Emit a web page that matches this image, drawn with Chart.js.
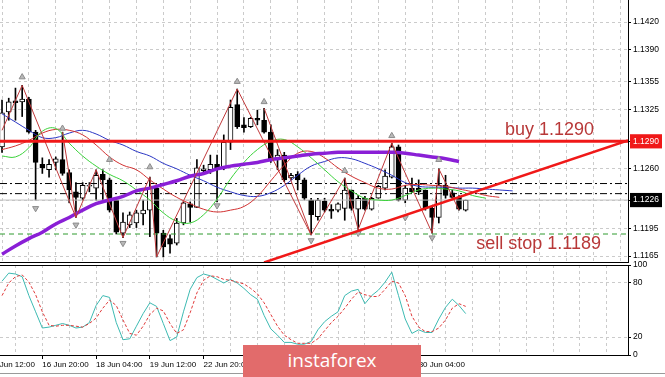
<!DOCTYPE html>
<html>
<head>
<meta charset="utf-8">
<script src="https://cdn.jsdelivr.net/npm/chart.js@4.4.1/dist/chart.umd.min.js"></script>
<style>
  html, body { margin: 0; padding: 0; background: #fff; }
  #wrap { position: relative; width: 665px; height: 377px; overflow: hidden; }
  #main { position: absolute; left: 0; top: 0; }
  #stoch { position: absolute; left: 0; top: 255px; }
  #foot { position: absolute; left: 0; top: 373px; width: 665px; height: 0; border-top: 1px solid #9a9a9a; }
  #mark { position: absolute; left: 243px; top: 345px; width: 178px; height: 32px;
          background: #e26b6b; color: #fff; font: 19px "Open Sans", sans-serif;
          text-align: center; line-height: 31px; }
</style>
</head>
<body>
<div id="wrap">
  <canvas id="main" width="665" height="263"></canvas>
  <canvas id="stoch" width="665" height="122"></canvas>
  <div id="foot"></div>
  <div id="mark">instaforex</div>
</div>
<script>
// H4 candles, one entry per bar (bar 0 = left edge)
var opens  = [1.1284,1.1322,1.1334,1.1333,1.1336,1.1300,1.1265,1.1259,1.1267,1.1270,
              1.1256,1.1235,1.1228,1.1241,1.1239,1.1254,1.1248,1.1226,1.1190,1.1199,
              1.1201,1.1211,1.1215,1.1239,1.1190,1.1184,1.1179,1.1201,1.1222,1.1218,
              1.1258,1.1259,1.1265,1.1261,1.1289,1.1330,1.1308,1.1306,1.1315,1.1313,
              1.1300,1.1271,1.1275,1.1250,1.1254,1.1248,1.1226,1.1208,1.1225,1.1216,
              1.1215,1.1217,1.1237,1.1216,1.1228,1.1216,1.1228,1.1239,1.1251,1.1284,
              1.1226,1.1239,1.1239,1.1237,1.1217,1.1207,1.1242,1.1234,1.1229,1.1215];
var highs  = [1.1335,1.1337,1.1348,1.1351,1.1338,1.1302,1.1272,1.1270,1.1273,1.1300,
              1.1259,1.1245,1.1245,1.1245,1.1259,1.1259,1.1250,1.1228,1.1212,1.1213,
              1.1215,1.1226,1.1251,1.1240,1.1193,1.1188,1.1206,1.1224,1.1224,1.1270,
              1.1264,1.1275,1.1275,1.1297,1.1335,1.1347,1.1316,1.1316,1.1324,1.1326,
              1.1308,1.1281,1.1278,1.1255,1.1257,1.1250,1.1228,1.1228,1.1228,1.1221,
              1.1223,1.1250,1.1237,1.1231,1.1230,1.1229,1.1242,1.1259,1.1288,1.1286,
              1.1242,1.1250,1.1248,1.1237,1.1218,1.1260,1.1253,1.1237,1.1231,1.1226];
var lows   = [1.1278,1.1313,1.1313,1.1317,1.1299,1.1226,1.1255,1.1251,1.1259,1.1253,
              1.1223,1.1207,1.1226,1.1235,1.1226,1.1226,1.1213,1.1189,1.1185,1.1196,
              1.1196,1.1199,1.1186,1.1164,1.1164,1.1168,1.1177,1.1199,1.1202,1.1218,
              1.1256,1.1255,1.1224,1.1259,1.1281,1.1304,1.1300,1.1305,1.1308,1.1299,
              1.1267,1.1259,1.1246,1.1248,1.1237,1.1226,1.1188,1.1204,1.1213,1.1206,
              1.1213,1.1204,1.1215,1.1194,1.1215,1.1215,1.1228,1.1237,1.1250,1.1225,
              1.1223,1.1234,1.1232,1.1215,1.1190,1.1201,1.1228,1.1228,1.1215,1.1214];
var closes = [1.1321,1.1333,1.1332,1.1336,1.1300,1.1267,1.1261,1.1265,1.1271,1.1255,
              1.1237,1.1229,1.1242,1.1242,1.1253,1.1248,1.1215,1.1191,1.1202,1.1210,
              1.1212,1.1215,1.1239,1.1190,1.1175,1.1178,1.1201,1.1223,1.1218,1.1261,
              1.1260,1.1265,1.1260,1.1289,1.1327,1.1306,1.1305,1.1315,1.1313,1.1300,
              1.1270,1.1275,1.1248,1.1253,1.1248,1.1228,1.1210,1.1226,1.1215,1.1214,
              1.1222,1.1237,1.1217,1.1228,1.1216,1.1228,1.1241,1.1252,1.1284,1.1226,
              1.1239,1.1235,1.1235,1.1217,1.1207,1.1242,1.1231,1.1229,1.1216,1.1226];

// moving averages, read every second bar (bar 0, 2, 4 ...)
var maSlow = [1.1167,1.1176,1.1184,1.1191,1.1200,1.1207,1.1215,1.1222,1.1226,1.1230,
              1.1236,1.1239,1.1243,1.1247,1.1252,1.1255,1.1260,1.1263,1.1265,1.1267,
              1.1270,1.1272,1.1274,1.1276,1.1277,1.1278,1.1278,1.1278,1.1278,1.1278,
              1.1277,1.1275,1.1273,1.1271,1.1268];
var jaw   = [1.1320,1.1311,1.1302,1.1294,1.1294,1.1299,1.1302,1.1298,1.1291,1.1286,
             1.1279,1.1274,1.1266,1.1260,1.1253,1.1247,1.1240,1.1235,1.1231,1.1230,
             1.1234,1.1242,1.1253,1.1263,1.1268,1.1272,1.1271,1.1266,1.1260,1.1253,
             1.1245,1.1241,1.1240,1.1240,1.1239,1.1239,1.1238,1.1237,1.1236];
var teeth = [1.1281,1.1285,1.1291,1.1299,1.1303,1.1302,1.1297,1.1286,1.1273,1.1264,
             1.1259,1.1248,1.1238,1.1229,1.1222,1.1216,1.1213,1.1215,1.1219,1.1230,
             1.1247,1.1264,1.1277,1.1279,1.1272,1.1261,1.1252,1.1245,1.1239,1.1238,
             1.1242,1.1243,1.1242,1.1241,1.1238,1.1235,1.1231,1.1229];
var lips  = [1.1274,1.1273,1.1283,1.1301,1.1304,1.1288,1.1274,1.1263,1.1254,1.1247,
             1.1237,1.1226,1.1212,1.1203,1.1201,1.1210,1.1227,1.1249,1.1267,1.1281,
             1.1290,1.1292,1.1284,1.1272,1.1259,1.1246,1.1236,1.1228,1.1226,1.1226,
             1.1231,1.1237,1.1239,1.1238,1.1236,1.1231,1.1228];

// zigzag turning points
var zzBars   = [0, 3, 11, 14, 18, 22, 23, 35, 46, 51, 53, 58, 64, 65, 68];
var zzPrices = [1.1302,1.1351,1.1207,1.1259,1.1185,1.1251,1.1164,1.1347,1.1188,1.1250,1.1194,1.1288,1.1190,1.1260,1.1215];
var zzExtraBars   = [[9, 11], [39, 46]];
var zzExtraPrices = [[1.1300, 1.1207], [1.1326, 1.1188]];

// fractal arrows
var fracUpBars   = [3, 9, 16, 22, 35, 39, 51, 58, 65];
var fracUpPrices = [1.1360,1.1304,1.1270,1.1262,1.1355,1.1333,1.1258,1.1296,1.1270];
var fracDnBars   = [5, 11, 18, 32, 46, 53, 60, 64];
var fracDnPrices = [1.1217,1.1199,1.1179,1.1220,1.1182,1.1190,1.1207,1.1185];

// levels
var buyLevel = 1.1290;
var sellStop = 1.1189;
var bidPrice = 1.1226;
var pendingLevels = [1.1244, 1.1233];
var trendBars = [39, 93.15];
var trendPrices = [1.1158, 1.1291];
var levelLabels = ['buy 1.1290', 'sell stop 1.1189'];

var priceTicks = [1.1420, 1.1390, 1.1355, 1.1325, 1.1290, 1.1260, 1.1226, 1.1195, 1.1165];
var timeLabels = ['15 Jun 12:00','16 Jun 20:00','18 Jun 04:00','19 Jun 12:00','22 Jun 20:00',
                  '24 Jun 04:00','25 Jun 12:00','26 Jun 20:00','30 Jun 04:00'];
var timeTickBars = [-2, 6, 14, 22, 30, 38, 46, 54, 62];

// stochastic
var stochMain = [82,91,90,87,66,48,30,31,33,35,33,30,31,36,55,66,64,36,17,18,
                 32,46,58,54,35,16,20,48,73,86,90,88,84,80,84,80,74,67,62,44,
                 29,22,14,14,12,12,15,28,37,43,48,66,71,73,57,66,72,81,92,66,
                 40,24,28,25,25,40,53,62,55,46];
var stochSignal = [66,80,87,89,81,67,48,33,32,33,33,32,31,35,41,52,61,55,39,24,
                   22,32,45,52,49,35,24,28,47,69,83,88,87,84,83,81,79,74,68,58,
                   45,32,22,17,13,13,13,18,27,36,43,52,62,70,67,65,65,73,82,80,
                   66,43,31,26,26,30,39,52,57,54];
var stochTicks = [0, 20, 80, 100];

var X_MIN = -0.3, X_MAX = 93.15;
var gridBars = [];
for (var b = -2; b <= 92; b += 4) gridBars.push(b);

Chart.defaults.font.family = '"Liberation Sans", Arial, sans-serif';
Chart.defaults.font.size = 8.5;
Chart.defaults.color = '#000';

function halfSteps(arr) {
    return arr.map(function (v, k) { return { x: k * 2, y: v }; });
}
function flatLine(v) {
    return [{ x: X_MIN, y: v }, { x: X_MAX, y: v }];
}
function lineSet(data, color, width, order, extra) {
    var ds = { type: 'line', data: data, borderColor: color, borderWidth: width,
               pointRadius: 0, fill: false, order: order };
    for (var k in extra) ds[k] = extra[k];
    return ds;
}

var bodyColors = opens.map(function (o, i) { return closes[i] >= o ? '#ffffff' : '#000000'; });

var datasets = [
    { type: 'bar', data: opens.map(function (o, i) { return { x: i, y: [lows[i], highs[i]] }; }),
      backgroundColor: '#000', borderWidth: 0, grouped: false,
      barThickness: 1, maxBarThickness: 1, order: 20 },
    { type: 'bar', data: opens.map(function (o, i) { return { x: i, y: [o, closes[i]] }; }),
      backgroundColor: bodyColors, borderColor: '#000', borderWidth: 1, borderSkipped: false,
      grouped: false, barThickness: 5, maxBarThickness: 5, order: 19 },
    lineSet(flatLine(bidPrice), '#c0c0c0', 1, 18),
    lineSet(flatLine(sellStop), '#2e9a2e', 1, 17, { borderDash: [5, 4] }),
    lineSet(flatLine(pendingLevels[0]), '#000', 1, 16, { borderDash: [7, 3, 2, 3] }),
    lineSet(flatLine(pendingLevels[1]), '#000', 1, 16, { borderDash: [7, 3, 2, 3] }),
    lineSet(halfSteps(jaw), '#2a36c4', 1, 12, { tension: 0.4 }),
    lineSet(halfSteps(teeth), '#d23232', 1, 11, { tension: 0.4 }),
    lineSet(halfSteps(lips), '#3ad23a', 1, 10, { tension: 0.4 }),
    lineSet(halfSteps(maSlow), '#8a1fd6', 3.5, 9, { tension: 0.4 }),
    lineSet(zzBars.map(function (b, k) { return { x: b, y: zzPrices[k] }; }), '#c0393b', 1, 8),
    lineSet(flatLine(buyLevel), '#f01818', 3, 3),
    lineSet(trendBars.map(function (b, k) { return { x: b, y: trendPrices[k] }; }), '#f01818', 2.5, 2),
    { type: 'line', data: fracUpBars.map(function (b, k) { return { x: b, y: fracUpPrices[k] }; }),
      showLine: false, pointStyle: 'triangle', pointRadius: 3.5, pointRotation: 0,
      pointBackgroundColor: '#b8b8b8', pointBorderColor: '#8c8c8c', pointBorderWidth: 1, order: 4 },
    { type: 'line', data: fracDnBars.map(function (b, k) { return { x: b, y: fracDnPrices[k] }; }),
      showLine: false, pointStyle: 'triangle', pointRadius: 3.5, pointRotation: 180,
      pointBackgroundColor: '#b8b8b8', pointBorderColor: '#8c8c8c', pointBorderWidth: 1, order: 4 }
];
zzExtraBars.forEach(function (bars, k) {
    datasets.push(lineSet(bars.map(function (b, j) { return { x: b, y: zzExtraPrices[k][j] }; }), '#c0393b', 1, 8));
});

var levelText = {
    id: 'levelText',
    afterDatasetsDraw: function (chart) {
        var ctx = chart.ctx, a = chart.chartArea, y = chart.scales.y;
        ctx.save();
        ctx.font = '18px "Liberation Sans", Arial, sans-serif';
        ctx.fillStyle = '#b83838';
        ctx.textAlign = 'right';
        ctx.fillText(levelLabels[0], a.right - 34, y.getPixelForValue(buyLevel) - 6);
        ctx.fillText(levelLabels[1], a.right - 27, y.getPixelForValue(sellStop) + 15);
        ctx.restore();
    }
};

var boxed = [buyLevel, bidPrice];

new Chart(document.getElementById('main').getContext('2d'), {
    type: 'line',
    data: { datasets: datasets },
    options: {
        responsive: false,
        animation: false,
        layout: { autoPadding: false, padding: 0 },
        plugins: { legend: { display: false }, tooltip: { enabled: false } },
        scales: {
            x: {
                type: 'linear', min: X_MIN, max: X_MAX, offset: false,
                afterBuildTicks: function (s) { s.ticks = gridBars.map(function (v) { return { value: v }; }); },
                afterFit: function (s) { s.height = 1; s.paddingLeft = 0; s.paddingRight = 0; },
                ticks: { display: false },
                grid: { color: '#cbcbcb', drawTicks: false },
                border: { color: '#000', dash: [3, 3] }
            },
            y: {
                position: 'right', min: 1.11585, max: 1.1444,
                afterBuildTicks: function (s) { s.ticks = priceTicks.map(function (v) { return { value: v }; }); },
                afterFit: function (s) { s.width = 37; s.paddingTop = 0; s.paddingBottom = 0; },
                ticks: {
                    padding: 2,
                    callback: function (v) { return v.toFixed(4); },
                    color: function (c) { return c.tick && boxed.indexOf(c.tick.value) >= 0 ? '#fff' : '#000'; },
                    showLabelBackdrop: function (c) { return !!(c.tick && boxed.indexOf(c.tick.value) >= 0); },
                    backdropColor: function (c) { return c.tick && c.tick.value === buyLevel ? '#f01818' : '#000'; },
                    backdropPadding: { x: 3, y: 2 }
                },
                grid: { color: '#cbcbcb', tickColor: '#000', tickLength: 3 },
                border: { color: '#000', dash: [3, 3] }
            }
        }
    },
    plugins: [levelText]
});

var topLine = {
    id: 'topLine',
    afterDraw: function (chart) {
        var ctx = chart.ctx, a = chart.chartArea;
        ctx.save();
        ctx.strokeStyle = '#000';
        ctx.beginPath();
        ctx.moveTo(0, a.top + 0.5);
        ctx.lineTo(a.right, a.top + 0.5);
        ctx.stroke();
        ctx.restore();
    }
};

new Chart(document.getElementById('stoch').getContext('2d'), {
    type: 'line',
    data: {
        datasets: [
            lineSet(stochMain.map(function (v, i) { return { x: i, y: v }; }), '#3dbab2', 1, 2),
            lineSet(stochSignal.map(function (v, i) { return { x: i, y: v }; }), '#e03a3a', 1, 1, { borderDash: [3, 2] })
        ]
    },
    options: {
        responsive: false,
        animation: false,
        layout: { autoPadding: false, padding: { top: 10, left: 0, right: 0, bottom: 0 } },
        plugins: { legend: { display: false }, tooltip: { enabled: false } },
        scales: {
            x: {
                type: 'linear', min: X_MIN, max: X_MAX, offset: false,
                afterBuildTicks: function (s) { s.ticks = gridBars.map(function (v) { return { value: v }; }); },
                afterFit: function (s) { s.height = 22; s.paddingLeft = 0; s.paddingRight = 0; },
                ticks: {
                    autoSkip: false, maxRotation: 0, minRotation: 0, align: 'start',
                    labelOffset: 0, padding: 1, font: { size: 8 },
                    callback: function (v) { var k = timeTickBars.indexOf(v); return k < 0 ? '' : timeLabels[k]; }
                },
                grid: {
                    color: '#cbcbcb', tickLength: 4,
                    tickColor: function (c) { return c.tick && timeTickBars.indexOf(c.tick.value) >= 0 ? '#000' : 'rgba(0,0,0,0)'; }
                },
                border: { color: '#000', dash: [3, 3] }
            },
            y: {
                position: 'right', min: 0, max: 100,
                afterBuildTicks: function (s) { s.ticks = stochTicks.map(function (v) { return { value: v }; }); },
                afterFit: function (s) { s.width = 37; s.paddingTop = 0; s.paddingBottom = 0; },
                ticks: { padding: 2 },
                grid: {
                    tickColor: '#000', tickLength: 3,
                    color: function (c) { return c.tick && (c.tick.value === 20 || c.tick.value === 80) ? '#cbcbcb' : 'rgba(0,0,0,0)'; }
                },
                border: { color: '#000', dash: [3, 3] }
            }
        }
    },
    plugins: [topLine]
});
</script>
</body>
</html>
